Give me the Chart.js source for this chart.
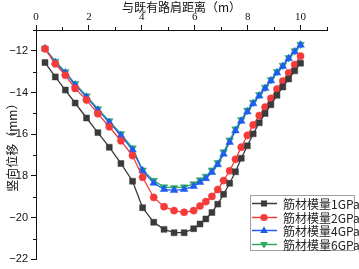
<!DOCTYPE html>
<html>
<head>
<meta charset="utf-8">
<script src="https://cdn.jsdelivr.net/npm/chart.js@4.4.1/dist/chart.umd.min.js"></script>
<style>
  html, body { margin:0; padding:0; background:#fff; }
  #wrap { position:relative; width:359px; height:269px; }
  #legend {
    position:absolute; left:250px; top:195px; width:105px; height:56px;
    border:1px solid #a0a0a0; background:#fff; box-sizing:border-box;
    padding-top:1px;
  }
  .legend-item { display:flex; align-items:center; height:13.5px; }
  .legend-item svg { flex:none; margin-left:1px; }
  .legend-item span {
    margin-left:6px; font:12px "Noto Sans CJK SC", "Liberation Serif", serif;
    color:#222; white-space:nowrap; line-height:13px;
  }
</style>
</head>
<body>
<div id="wrap">
  <canvas id="chart" width="359" height="269"></canvas>
  <div id="legend"></div>
</div>
<script>
// ── Data ──────────────────────────────────────────────────────
const xDist = [
  0.34, 0.73, 1.11, 1.48, 1.91, 2.34, 2.77, 3.21, 3.65, 4.03, 4.45, 4.84, 5.22, 5.60, 5.96,
  6.20, 6.42, 6.65, 6.87, 7.09, 7.32, 7.54, 7.76, 7.99, 8.21, 8.44, 8.66, 8.88, 9.11, 9.33, 9.55, 9.78, 10.00
];
const mod1GPa = [
  -12.56, -13.25, -13.88, -14.50, -15.22, -15.92, -16.62, -17.40, -18.25, -19.52, -20.22, -20.56, -20.72, -20.72, -20.53,
  -20.30, -20.06, -19.75, -19.35, -18.88, -18.35, -17.80, -17.15, -16.55, -15.98, -15.45, -15.00, -14.58, -14.13, -13.73, -13.35, -12.96, -12.59
];
const mod2GPa = [
  -11.90, -12.62, -13.17, -13.80, -14.36, -15.01, -15.64, -16.31, -17.02, -18.06, -19.03, -19.47, -19.66, -19.74, -19.66,
  -19.44, -19.23, -18.98, -18.65, -18.22, -17.75, -17.20, -16.62, -16.05, -15.55, -15.10, -14.70, -14.28, -13.83, -13.45, -13.05, -12.66, -12.25
];
const mod4GPa = [
  -11.90, -12.55, -13.06, -13.63, -14.22, -14.84, -15.43, -16.06, -16.75, -17.75, -18.34, -18.64, -18.69, -18.64, -18.50,
  -18.30, -18.12, -17.82, -17.45, -16.95, -16.38, -15.83, -15.37, -14.92, -14.53, -14.16, -13.80, -13.43, -13.05, -12.74, -12.37, -12.04, -11.72
];
const mod6GPa = [
  -11.88, -12.51, -13.01, -13.58, -14.16, -14.78, -15.36, -15.98, -16.66, -17.72, -18.22, -18.53, -18.56, -18.53, -18.38,
  -18.19, -18.02, -17.72, -17.36, -16.85, -16.28, -15.75, -15.30, -14.85, -14.47, -14.10, -13.75, -13.38, -13.00, -12.70, -12.33, -12.00, -11.69
];
const seriesNames = ['筋材模量1GPa', '筋材模量2GPa', '筋材模量4GPa', '筋材模量6GPa'];
const xMinorTicks = [1, 3, 5, 7, 9, 11];
const yMinorTicks = [-21, -19, -17, -15, -13, -11];

// ── Styles ────────────────────────────────────────────────────
const C = {
  black:'#3a3a3a', red:'#f53a3a', blue:'#1f5cf0', green:'#2fa860', axis:'#111',
};
const styles = [
  { color:C.black, point:'rect',     radius:4.2, rot:0   },
  { color:C.red,   point:'circle',   radius:3.6, rot:0   },
  { color:C.blue,  point:'triangle', radius:4.4, rot:0   },
  { color:C.green, point:'triangle', radius:4.4, rot:180 },
];
const seriesValues = [mod1GPa, mod2GPa, mod4GPa, mod6GPa];

const datasets = seriesValues.map((vals, i) => ({
  label: seriesNames[i],
  data: xDist.map((x, j) => ({ x, y: vals[j] })),
  borderColor: styles[i].color, backgroundColor: styles[i].color,
  pointBackgroundColor: styles[i].color, pointBorderColor: styles[i].color,
  pointStyle: styles[i].point, pointRadius: styles[i].radius, pointRotation: styles[i].rot,
  pointBorderWidth: 0.5, borderWidth: 1.3, tension: 0,
}));

// ── Minor ticks (drawn through the scales) ────────────────────
const minorTicks = {
  id:'minorTicks',
  afterDraw(chart) {
    const { ctx, chartArea, scales:{ x, y } } = chart;
    ctx.save();
    ctx.strokeStyle = C.axis; ctx.lineWidth = 1;
    ctx.beginPath();
    xMinorTicks.forEach(v => {
      const px = Math.round(x.getPixelForValue(v)) + 0.5;
      ctx.moveTo(px, chartArea.top); ctx.lineTo(px, chartArea.top - 3);
    });
    yMinorTicks.forEach(v => {
      const py = Math.round(y.getPixelForValue(v)) + 0.5;
      ctx.moveTo(chartArea.left, py); ctx.lineTo(chartArea.left - 3, py);
    });
    ctx.stroke();
    ctx.restore();
  }
};

new Chart(document.getElementById('chart').getContext('2d'), {
  type:'line',
  data:{ datasets },
  options:{
    responsive:false, animation:false,
    layout:{ padding:{ left:0, right:32, top:0, bottom:5 } },
    plugins:{ legend:{ display:false }, tooltip:{ enabled:false } },
    scales:{
      x:{
        type:'linear', position:'top', min:0, max:11,
        afterFit: s => { s.height = 30; },
        afterBuildTicks: s => { s.ticks = s.ticks.filter(t => t.value % 2 === 0); },
        ticks:{ stepSize:2, padding:1, color:'#111', font:{ family:'"Liberation Serif", serif', size:11 } },
        grid:{ drawOnChartArea:false, tickLength:5, color:C.axis, tickColor:C.axis },
        border:{ color:C.axis, width:1 },
        title:{ display:true, text:'与既有路肩距离（m）', color:'#111', padding:{ top:0, bottom:0 },
          font:{ family:'"Noto Sans CJK SC", sans-serif', size:12 } },
      },
      y:{
        type:'linear', min:-22, max:-11,
        afterFit: s => { s.width = 36; },
        afterBuildTicks: s => { s.ticks = s.ticks.filter(t => t.value % 2 === 0); },
        ticks:{ stepSize:2, padding:3, color:'#111',
          font:{ family:'"Liberation Sans", sans-serif', size:11 },
          callback: v => '\u2212' + Math.abs(v) },
        grid:{ drawOnChartArea:false, tickLength:5, color:C.axis, tickColor:C.axis },
        border:{ color:C.axis, width:1 },
        title:{ display:true, text:'竖向位移（mm）', color:'#111', padding:{ top:5, bottom:0 },
          font:{ family:'"Noto Sans CJK SC", sans-serif', size:12 } },
      },
    },
  },
  plugins:[minorTicks],
});

// ── Legend ────────────────────────────────────────────────────
function markerSvg(st) {
  const cx = 12, cy = 6.5;
  let mark = '';
  if (st.point === 'rect') mark = `<rect x="${cx-3}" y="${cy-3}" width="6" height="6" fill="${st.color}"/>`;
  else if (st.point === 'circle') mark = `<circle cx="${cx}" cy="${cy}" r="3.6" fill="${st.color}"/>`;
  else if (st.rot === 0) mark = `<polygon points="${cx},${cy-4.2} ${cx+3.8},${cy+2.4} ${cx-3.8},${cy+2.4}" fill="${st.color}"/>`;
  else mark = `<polygon points="${cx},${cy+4.2} ${cx+3.8},${cy-2.4} ${cx-3.8},${cy-2.4}" fill="${st.color}"/>`;
  return `<svg width="25" height="13"><line x1="0" y1="${cy}" x2="25" y2="${cy}" stroke="${st.color}" stroke-width="1.5"/>${mark}</svg>`;
}
document.getElementById('legend').innerHTML = seriesNames.map((n, i) =>
  `<div class="legend-item">${markerSvg(styles[i])}<span>${n}</span></div>`
).join('');
</script>
</body>
</html>
